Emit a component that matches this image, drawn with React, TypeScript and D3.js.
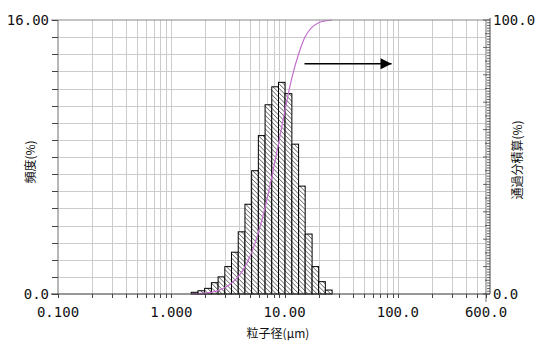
import React from 'react';
import * as d3 from 'd3';

// particle size bin edges (µm) and frequency (%) per bin
const binEdges = [1.50, 1.72, 1.97, 2.26, 2.59, 2.97, 3.40, 3.90, 4.47, 5.12, 5.87,
  6.73, 7.71, 8.84, 10.1, 11.6, 13.3, 15.2, 17.5, 20.0, 22.9, 26.3];
const frequency = [0.1, 0.19, 0.33, 0.66, 1.0, 1.6, 2.44, 3.63, 5.24, 7.2, 9.25,
  11.05, 12.1, 12.36, 11.7, 8.75, 6.3, 3.5, 1.6, 0.72, 0.23];
// cumulative passing (%) at each bin edge
const cumulative = [0, 0.1, 0.3, 0.6, 1.3, 2.3, 3.9, 6.3, 9.9, 15.2, 22.4,
  31.6, 42.7, 54.8, 67.2, 78.9, 87.6, 93.9, 97.4, 99.0, 99.7, 100];

const xTickValues = [0.1, 1, 10, 100, 600];
const xTickLabels = ['0.100', '1.000', '10.00', '100.0', '600.0'];
const xGrid = [0.2, 0.3, 0.4, 0.5, 0.6, 0.7, 0.8, 0.9, 1, 2, 3, 4, 5, 6, 7, 8, 9,
  10, 20, 30, 40, 50, 60, 70, 80, 90, 100, 200, 300, 400, 500];
const arrowFrom = [15, 84];
const arrowTo = [88, 84];

const W = 536;
const H = 345;
const left = 58;
const right = 486;
const top = 20;
const bottom = 294;
const axisR = 490;

const numFont = '"DejaVu Sans Mono", monospace';
const jpFont = '"Noto Sans CJK JP", sans-serif';

export default function App() {
  const x = d3.scaleLog().domain([0.1, 600]).range([left, right]);
  const y = d3.scaleLinear().domain([0, 16]).range([bottom, top]);
  const yc = d3.scaleLinear().domain([0, 100]).range([bottom, top]);

  const line = d3.line<number>()
    .x((_, i) => x(binEdges[i]))
    .y(d => yc(d))
    .curve(d3.curveMonotoneX);

  const yGrid = d3.range(1, 16);
  const yTicks = d3.range(0, 17);
  const cTicks = d3.range(0, 101);

  return (
    <svg width={W} height={H} style={{ position: 'fixed', left: 0, top: 0, background: '#fff' }}>
      <defs>
        <pattern id="hatch" patternUnits="userSpaceOnUse" width="3.2" height="3.2"
          patternTransform="rotate(-45)">
          <rect width="3.2" height="3.2" fill="#fff" />
          <line x1="0" y1="0" x2="0" y2="3.2" stroke="#000" strokeWidth="0.9" />
        </pattern>
        <marker id="arrowhead" viewBox="0 0 10 10" refX="10" refY="5"
          markerWidth="19" markerHeight="11" markerUnits="userSpaceOnUse" orient="auto">
          <path d="M0,0 L10,5 L0,10 Z" fill="#000" />
        </marker>
      </defs>

      {/* grid */}
      <g stroke="#cccccc" strokeWidth={1}>
        {xGrid.map(v => (
          <line key={'gx' + v} x1={Math.round(x(v)) + 0.5} x2={Math.round(x(v)) + 0.5} y1={top} y2={bottom} />
        ))}
        {yGrid.map(v => (
          <line key={'gy' + v} x1={left} x2={right} y1={Math.round(y(v)) + 0.5} y2={Math.round(y(v)) + 0.5} />
        ))}
      </g>

      {/* bars */}
      <g stroke="#000" strokeWidth={1} fill="url(#hatch)">
        {frequency.map((f, i) => (
          <rect key={'b' + i} x={x(binEdges[i])} width={x(binEdges[i + 1]) - x(binEdges[i])}
            y={y(f)} height={bottom - y(f)} />
        ))}
      </g>

      {/* cumulative curve */}
      <path d={line(cumulative) || ''} fill="none" stroke="#c46fd0" strokeWidth={1.2} />

      {/* arrow */}
      <line x1={x(arrowFrom[0])} x2={x(arrowTo[0])} y1={yc(arrowFrom[1])} y2={yc(arrowTo[1])}
        stroke="#000" strokeWidth={1.5} markerEnd="url(#arrowhead)" />

      {/* frame */}
      <g stroke="#888" strokeWidth={1.2} fill="none">
        <line x1={51} x2={axisR} y1={top} y2={top} />
        <line x1={left} x2={left} y1={top} y2={bottom} />
        <line x1={right} x2={right} y1={top} y2={bottom + 8} />
      </g>
      <line x1={51} x2={axisR} y1={bottom} y2={bottom} stroke="#333" strokeWidth={1.2} />
      <line x1={axisR} x2={axisR} y1={top - 2} y2={bottom} stroke="#444" strokeWidth={1} />

      {/* left ticks */}
      <g stroke="#444" strokeWidth={1}>
        {yTicks.map(v => (
          <line key={'ly' + v} x1={52} x2={left} y1={Math.round(y(v)) + 0.5} y2={Math.round(y(v)) + 0.5} />
        ))}
      </g>
      {/* right ticks */}
      <g stroke="#444" strokeWidth={0.8}>
        {cTicks.map(v => (
          <line key={'ry' + v} x1={axisR - (v % 10 === 0 ? 7 : v % 5 === 0 ? 5 : 3)} x2={axisR}
            y1={yc(v)} y2={yc(v)} />
        ))}
      </g>
      {/* bottom ticks */}
      <g stroke="#444" strokeWidth={1}>
        {[0.1, ...xGrid, 600].map(v => (
          <line key={'bx' + v} x1={Math.round(x(v)) + 0.5} x2={Math.round(x(v)) + 0.5}
            y1={bottom} y2={bottom + 4} />
        ))}
      </g>

      {/* tick labels */}
      <g fontFamily={numFont} fontSize={14} fill="#111">
        <text x={49} y={y(16) + 5} textAnchor="end">16.00</text>
        <text x={49} y={y(0) + 5} textAnchor="end">0.0</text>
        <text x={493} y={yc(100) + 5}>100.0</text>
        <text x={493} y={yc(0) + 5}>0.0</text>
        {xTickValues.map((v, i) => (
          <text key={'xt' + v} x={x(v)} y={317} textAnchor="middle">{xTickLabels[i]}</text>
        ))}
      </g>

      {/* axis titles */}
      <g fontFamily={jpFont} fontSize={12} fill="#111">
        <text transform="translate(35,162) rotate(-90)" textAnchor="middle">頻度(%)</text>
        <text transform="translate(522,160) rotate(-90)" textAnchor="middle">通過分積算(%)</text>
        <text x={278} y={338} textAnchor="middle">粒子径(μm)</text>
      </g>
    </svg>
  );
}
